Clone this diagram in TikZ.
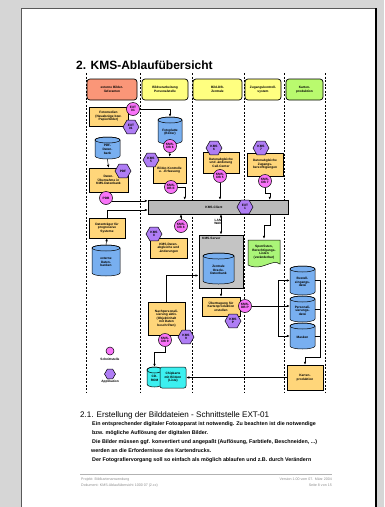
\documentclass[tikz,border=0pt]{standalone}
\usepackage{fontspec}
\setmainfont{Liberation Sans}
\usetikzlibrary{shapes.geometric,arrows.meta,calc}
\definecolor{bgc}{RGB}{214,214,214}
\definecolor{salmonc}{RGB}{250,150,120}
\definecolor{yelc}{RGB}{255,255,128}
\definecolor{grnc}{RGB}{185,250,110}
\definecolor{procc}{RGB}{255,214,122}
\definecolor{bluec}{RGB}{120,175,240}
\definecolor{pinkc}{RGB}{248,115,248}
\definecolor{purc}{RGB}{175,125,245}
\definecolor{barc}{RGB}{185,185,185}
\definecolor{srvc}{RGB}{196,196,196}
\definecolor{cyanc}{RGB}{60,240,240}
\definecolor{docc}{RGB}{170,245,120}
\definecolor{footc}{RGB}{140,140,140}
\newcommand\tinyb{\fontsize{3.2}{3.6}\selectfont\bfseries}
\newcommand\boxat[7]{%
  \pgfmathsetmacro\bxW{#5-(#3)}%
  \pgfmathsetmacro\bxH{#6-(#4)}%
  \pgfmathsetmacro\bxX{(#3+#5)/2}%
  \pgfmathsetmacro\bxY{-(#4+#6)/2}%
  \pgfmathsetmacro\bxT{\bxW-1.5}%
  \node[#1, minimum width=\bxW pt, minimum height=\bxH pt, text width=\bxT pt] (#2) at (\bxX,\bxY) {#7};}
\newcommand\cylat[7]{%
  \pgfmathsetmacro\cyA{#2}\pgfmathsetmacro\cyB{#4}%
  \pgfmathsetmacro\cyT{-(#3)}\pgfmathsetmacro\cyD{-(#5)}%
  \pgfmathsetmacro\cyR{(#4-(#2))/2}\pgfmathsetmacro\cyX{(#2+#4)/2}%
  \pgfmathsetmacro\cyY{-(#3+#5)/2}%
  \pgfmathsetmacro\cyW{#4-(#2)}\pgfmathsetmacro\cyH{#5-(#3)}%
  \filldraw[fill=#7, line width=0.5pt] (\cyA,\cyT-3) -- (\cyA,\cyD+3)
     arc[start angle=180,end angle=360,x radius=\cyR,y radius=3] -- (\cyB,\cyT-3)
     arc[start angle=0,end angle=180,x radius=\cyR,y radius=3] -- cycle;
  \draw[line width=0.5pt] (\cyX,\cyT-3) ellipse[x radius=\cyR, y radius=3];
  \node[inner sep=0pt, minimum width=\cyW pt, minimum height=\cyH pt] (#1) at (\cyX,\cyY) {};
  \node[font=\tinyb, align=center, inner sep=0pt] at (\cyX,\cyY-1.5) {#6};}
\tikzset{
  lane/.style={dash pattern=on 2pt off 1.5pt, line width=0.6pt},
  hdr/.style={draw, rounded corners=3pt, line width=0.7pt, font=\tinyb, align=center, inner sep=0.5pt},
  proc/.style={draw, fill=procc, line width=0.5pt, font=\tinyb, align=center, inner sep=0.5pt},
  ifc/.style={circle, draw, fill=pinkc, minimum size=13pt, inner sep=0pt, font=\tinyb, align=center, line width=0.5pt},
  app/.style={regular polygon, regular polygon sides=6, draw, fill=purc, minimum size=16pt, inner sep=0pt, font=\tinyb, align=center, line width=0.5pt},
  arr/.style={-{Latex[length=3pt,width=2.5pt]}, line width=0.5pt},
  darr/.style={{Latex[length=3pt,width=2.5pt]}-{Latex[length=3pt,width=2.5pt]}, line width=0.5pt},
  con/.style={line width=0.5pt},
  lbl/.style={font=\tinyb, align=center, inner sep=0pt},
  bodytxt/.style={font=\fontsize{5.35}{6}\selectfont\bfseries, anchor=base west, inner sep=0pt},
  foottxt/.style={font=\fontsize{3.6}{4}\selectfont, text=footc, inner sep=0pt}
}
\begin{document}
\begin{tikzpicture}[x=1pt,y=1pt]
\useasboundingbox (0,0) rectangle (384,-507);
% page
\fill[bgc] (0,0) rectangle (384,-507);
\fill[white] (21,-8) rectangle (376,-507);
\draw[gray!70!black, line width=0.8pt] (21,-507) -- (21,-8) -- (375,-8);
\draw[black, line width=2.5pt] (376,-8) -- (376,-507);
% title
\node[anchor=base west, inner sep=0pt, font=\fontsize{12}{14}\selectfont\bfseries] (title) at (76,-69) {2. KMS-Ablaufübersicht};
% lanes
\foreach \lx in {86,140,192,244,284,325} \draw[lane] (\lx,-73) -- (\lx,-393);
% headers
\boxat{hdr, fill=salmonc}{h1}{87}{79}{137}{100}{externe Bilder-\\lieferanten}
\boxat{hdr, fill=yelc}{h2}{142}{79}{188}{100}{Bildverarbeitung\\Personalstelle}
\boxat{hdr, fill=yelc}{h3}{193}{79}{242}{100}{Bild-DB-\\Zentrale}
\boxat{hdr, fill=yelc}{h4}{245}{79}{281}{100}{Zugangskontroll-\\system}
\boxat{hdr, fill=grnc}{h5}{286}{79}{323}{100}{Karten-\\produktion}
% lane 1
\boxat{proc}{fotomedien}{89}{107}{128}{126}{Fotomedien\\(Neuabzüge bzw.\\Papierbilder)}
\node[ifc] (ext01) at (133,-109) {EXT\\01};
\node[app] (ext01h) at (131,-127) {EXT\\01};
\cylat{pdfdb}{95}{137}{120}{159}{PDF-\\Daten-\\bank}{bluec}
\boxat{proc}{datenueb}{89}{168}{128}{192}{Daten-\\Übernahme in\\KMS-Datenbank}
\node[app] (pdf) at (123,-171) {PDF};
\node[ifc] (pdb) at (106,-198) {PDB};
\boxat{proc}{datentr}{89}{218}{125}{238}{Datenträger für\\progressive\\Systeme}
\cylat{extdb}{92}{245}{120}{276}{externe\\Daten-\\banken}{bluec}
\node[ifc, minimum size=8pt] (legc) at (110,-351) {};
\node[lbl] (legct) at (110,-359) {Schnittstelle};
\node[app, minimum size=11pt] (legh) at (110,-374) {};
\node[lbl] (leght) at (110,-382) {Applikation};
% lane 2
\cylat{fotoplatte}{158}{117}{182}{144}{Fotoplatte\\(Bilder)}{bluec}
\boxat{proc}{bildkontrolle}{153}{157}{186}{183}{Bilder-Kontrolle\\u. -Erfassung}
\node[ifc] (kmsdb6) at (170,-146) {KMS-\\DB 6};
\node[app] (kms5) at (151,-160) {KMS\\5};
\node[ifc] (kmsdbE) at (171,-187) {KMS-\\DB E};
% bar
\boxat{draw, fill=barc, line width=0.5pt, inner sep=0pt}{bar}{148}{200}{288}{214}{}
\node[lbl] (bartxt) at (214,-207) {KMS-Client};
\node[app] (ext1) at (245,-207) {EXT\\1};
\boxat{proc}{datenabgl}{150}{238}{187}{258}{KMS-Daten-\\abgleiche und\\-änderungen}
\node[ifc] (kmsdb8) at (181,-226) {KMS-\\DB 8};
\node[app] (kms8) at (154,-234) {KMS\\8};
\boxat{proc}{nachpers}{148}{302}{185}{335}{Nachpersonali-\\sierung aktiv.\\(Objektinhalt\\mit Daten\\beschriften)}
\node[ifc] (kmsdb9) at (165,-340) {KMS-\\DB 9};
\node[app] (kms9) at (186,-337) {KMS\\9};
\cylat{cd}{147}{367}{162}{387}{CD-\\ROM}{cyanc}
\boxat{proc, fill=cyanc, rounded corners=2pt}{chip}{160}{367}{186}{388}{Chipkarte\\mit Bildern\\(Liste)}
% lane 3
\boxat{proc}{callcenter}{203}{152}{239}{173}{Datenabgleiche\\und -änderung\\Call-Center}
\node[app] (kms6) at (214,-148) {KMS\\6};
\node[ifc] (kmsdb5) at (220,-176) {KMS-\\DB 5};
\node[lbl] (lanwan) at (218,-222) {LAN\\WAN};
\boxat{draw, fill=srvc, line width=1pt, inner sep=0pt}{server}{199}{235}{243}{288}{}
\node[lbl, anchor=north west] (srvtxt) at (202,-237) {KMS-Server};
\cylat{oracle}{203}{253}{234}{284}{Zentrale\\Oracle-\\Datenbank}{bluec}
\boxat{proc}{uebertr}{202}{297}{240}{316}{Übertragung für\\Kartenproduktion\\erstellen}
\node[ifc] (kmsdbP) at (245,-306) {KMS-\\DB P};
\node[app] (kmsP) at (233,-321) {KMS\\P};
% lane 4
\boxat{proc}{zugang}{247}{153}{283}{176}{Datenabgleiche\\Zugangs-\\berechtigungen}
\node[app] (kms7) at (261,-148) {KMS\\7};
\node[ifc] (kmsdb7) at (265,-181) {KMS-\\DB 7};
\filldraw[fill=docc, line width=0.5pt] (248,-240) -- (280,-240) -- (280,-264)
   .. controls (272,-258) and (262,-272) .. (248,-265) -- cycle;
\node[lbl, minimum width=32pt, minimum height=26pt] (sperr) at (264,-252) {Sperrlisten,\\Berechtigungs-\\Listen\\(veränderbar)};
% lane 5
\cylat{best}{290}{266}{315}{295}{Bestell-\\eingangs-\\datei}{bluec}
\cylat{pers}{290}{296}{315}{322}{Personali-\\sierungs-\\datei}{bluec}
\cylat{masken}{290}{323}{315}{349}{Masken}{bluec}
\boxat{proc}{kartenprod}{287}{365}{323}{390}{Karten-\\produktion}
% connectors
\draw[arr] (ext01.east) -| (fotoplatte.north);
\draw[arr] (kmsdb6.south) -- (bildkontrolle.north);
\draw[arr] (pdfdb.south) -- (datenueb.north);
\draw[arr] (kmsdbE.east) -| ([xshift=37pt]bar.north west);
\draw[arr] (kmsdb8.north) -- (kmsdb8.north |- bar.south);
\draw[arr] (kmsdb5.south) -- (kmsdb5.south |- bar.north);
\draw[arr] (kmsdb7.south) -- ++(0,-5) -| ([xshift=122pt]bar.north west);
\draw[arr] ([xshift=122pt]bar.south west) -- ++(0,-11) -| (sperr.north);
\draw[arr] (pdb.-25) -- (pdb.-25 -| bar.west);
\draw[arr] (datentr.north) |- ([yshift=-3pt]bar.west);
\draw[arr] (extdb.north) -- (datentr.south);
\draw[darr] (server.north) -- (server.north |- bar.south);
\draw[arr] (server.south) -- (uebertr.north);
\draw[arr] (nachpers.north) |- ([yshift=-14pt]server.west);
\draw[arr] (kmsdb9.south) -- ++(0,-5) -| (cd.north);
\draw[arr] (kartenprod.west) -- (chip.east);
\coordinate (fan) at (278,-306);
\draw[con] (kmsdbP.east) -- (fan);
\draw[arr] (fan) |- (best.west);
\draw[arr] (fan) -- (fan -| pers.west);
\draw[arr] (fan) |- (masken.west);
\coordinate (rj) at (320,-357);
\draw[arr] (best.east) -| (rj) -| (kartenprod.north);
\draw[con] (pers.east) -- (pers.east -| rj);
\draw[con] (masken.east) -- (masken.east -| rj);
% text section
\node[anchor=base west, inner sep=0pt, font=\fontsize{8.1}{9}\selectfont] (sub) at (80,-417) {2.1. Erstellung der Bilddateien - Schnittstelle EXT-01};
\node[bodytxt] (b1) at (92,-425) {Ein entsprechender digitaler Fotoapparat ist notwendig. Zu beachten ist die notwendige};
\node[bodytxt] (b2) at (92,-434) {bzw. mögliche Auflösung der digitalen Bilder.};
\node[bodytxt] (b3) at (92,-443) {Die Bilder müssen ggf. konvertiert und angepaßt (Auflösung, Farbtiefe, Beschneiden, ...)};
\node[bodytxt] (b4) at (91,-452) {werden an die Erfordernisse des Kartendrucks.};
\node[bodytxt] (b5) at (92,-461) {Der Fotografiervorgang soll so einfach als möglich ablaufen und z.B. durch Verändern};
% footer
\draw[gray!60, line width=0.5pt] (80,-474) -- (332,-474);
\node[foottxt, anchor=base west] (f1) at (81,-480) {Projekt: Bildkartenanwendung};
\node[foottxt, anchor=base west] (f2) at (81,-486) {Dokument: KMS-Ablaufübersicht 1000 07 (2.xx)};
\node[foottxt, anchor=base east] (f3) at (332,-480) {Version 1.00 vom 07. März 2004};
\node[foottxt, anchor=base east] (f4) at (332,-486) {Seite 8 von 15};
\end{tikzpicture}
\end{document}
